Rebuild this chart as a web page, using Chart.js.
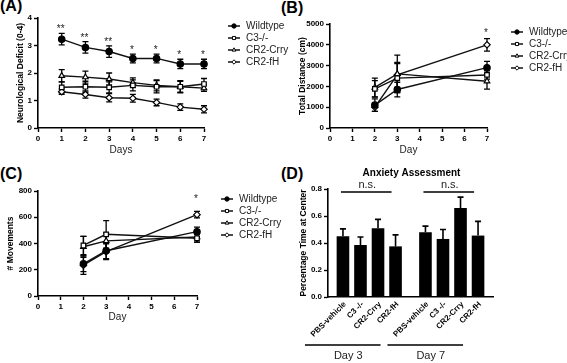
<!DOCTYPE html>
<html>
<head>
<meta charset="utf-8">
<script src="https://cdn.jsdelivr.net/npm/chart.js@4.4.0/dist/chart.umd.min.js"></script>
<style>
  body { margin: 0; background: #fff; width: 567px; height: 363px; position: relative; overflow: hidden; font-family: "Liberation Sans", Arial, sans-serif; }
  canvas { position: absolute; }
  .tag { position: absolute; font-weight: bold; font-size: 16px; line-height: 16px; color: #000; }
</style>
</head>
<body>
<div class="tag" style="left:0px;top:-2px">(A)</div>
<div class="tag" style="left:281px;top:0px">(B)</div>
<div class="tag" style="left:0px;top:166px">(C)</div>
<div class="tag" style="left:281px;top:166px">(D)</div>

<canvas id="chartA" width="290" height="162" style="left:0;top:0"></canvas>
<canvas id="chartB" width="287" height="162" style="left:280px;top:0"></canvas>
<canvas id="chartC" width="290" height="150" style="left:0;top:180px"></canvas>
<canvas id="chartD" width="287" height="203" style="left:280px;top:160px"></canvas>

<script>
// ---- data ----
const groups = ['Wildtype', 'C3-/-', 'CR2-Crry', 'CR2-fH'];

// (A) neurological deficit, days 1-7
const deficitDays = [1, 2, 3, 4, 5, 6, 7];
const deficitWT = [3.23, 2.93, 2.78, 2.53, 2.53, 2.33, 2.33];
const deficitWTErr = [0.21, 0.21, 0.21, 0.16, 0.16, 0.17, 0.17];
const deficitC3 = [1.48, 1.5, 1.48, 1.55, 1.5, 1.5, 1.6];
const deficitC3Err = [0.2, 0.2, 0.2, 0.2, 0.22, 0.22, 0.2];
const deficitCrry = [1.9, 1.85, 1.78, 1.65, 1.55, 1.5, 1.45];
const deficitCrryErr = [0.22, 0.22, 0.22, 0.17, 0.2, 0.2, 0.12];
const deficitFH = [1.32, 1.22, 1.1, 1.08, 0.93, 0.76, 0.68];
const deficitFHErr = [0.1, 0.13, 0.15, 0.14, 0.12, 0.12, 0.13];
const deficitStars = ['**', '**', '**', '*', '*', '*', '*'];

// (B) total distance, days 2, 3, 7
const distDays = [2, 3, 7];
const distWT = [1100, 1850, 2900];
const distWTErr = [300, 350, 300];
const distC3 = [1880, 2400, 2550];
const distC3Err = [400, 700, 200];
const distCrry = [1950, 2600, 2250];
const distCrryErr = [450, 900, 380];
const distFH = [1000, 2550, 4000];
const distFHErr = [200, 600, 300];
const distStars = ['', '', '*'];

// (C) movements, days 2, 3, 7
const moveDays = [2, 3, 7];
const moveWT = [245, 345, 490];
const moveWTErr = [60, 60, 35];
const moveC3 = [385, 470, 440];
const moveC3Err = [70, 105, 30];
const moveCrry = [375, 420, 450];
const moveCrryErr = [80, 60, 40];
const moveFH = [235, 338, 620];
const moveFHErr = [70, 60, 25];
const moveStars = ['', '', '*'];

// (D) anxiety assessment
const treatments = ['PBS-vehicle', 'C3 -/-', 'CR2-Crry', 'CR2-fH'];
const anxietyDays = ['Day 3', 'Day 7'];
const day3Means = [0.45, 0.385, 0.51, 0.375];
const day3Err = [0.055, 0.06, 0.065, 0.085];
const day7Means = [0.48, 0.43, 0.66, 0.455];
const day7Err = [0.045, 0.07, 0.08, 0.105];

// ---- styles ----
const FONT = '"Liberation Sans", Arial, sans-serif';
const markers = [
  { pointStyle: 'circle', fill: '#000' },
  { pointStyle: 'rect', fill: '#fff' },
  { pointStyle: 'triangle', fill: '#fff' },
  { pointStyle: 'rectRot', fill: '#fff' }
];

function lineSet(label, idx, days, vals, errs) {
  return {
    label: label,
    data: days.map((d, i) => ({ x: d, y: vals[i] })),
    errors: errs,
    borderColor: '#111',
    borderWidth: 1.4,
    pointStyle: markers[idx].pointStyle,
    pointBackgroundColor: markers[idx].fill,
    pointBorderColor: '#000',
    pointBorderWidth: 1.2,
    pointRadius: 3.2,
    tension: 0,
    clip: false
  };
}

// error bars + significance stars for the line panels
const errorBars = {
  id: 'errorBars',
  beforeDatasetsDraw(chart, args, o) {
    const { ctx, scales: { y } } = chart;
    ctx.save();
    ctx.strokeStyle = '#000';
    ctx.lineWidth = 1.3;
    chart.data.datasets.forEach((ds, i) => {
      chart.getDatasetMeta(i).data.forEach((pt, j) => {
        const v = ds.data[j].y, e = ds.errors[j];
        const top = y.getPixelForValue(v + e), bot = y.getPixelForValue(v - e);
        ctx.beginPath();
        ctx.moveTo(pt.x, top); ctx.lineTo(pt.x, bot);
        ctx.moveTo(pt.x - 3, top); ctx.lineTo(pt.x + 3, top);
        ctx.moveTo(pt.x - 3, bot); ctx.lineTo(pt.x + 3, bot);
        ctx.stroke();
      });
    });
    ctx.restore();
  },
  afterDraw(chart, args, o) {
    if (!o.stars) return;
    const { ctx, scales: { x, y } } = chart;
    ctx.save();
    ctx.fillStyle = '#222';
    ctx.font = '10px ' + FONT;
    ctx.textAlign = 'center';
    ctx.textBaseline = 'alphabetic';
    o.stars.forEach((s, j) => {
      if (!s) return;
      let hi = -Infinity;
      chart.data.datasets.forEach(ds => { hi = Math.max(hi, ds.data[j].y + ds.errors[j]); });
      ctx.fillText(s, x.getPixelForValue(chart.data.datasets[0].data[j].x) - 1, y.getPixelForValue(hi) - o.gap);
    });
    ctx.restore();
  }
};

// legend with line + marker like the Prism style
const lineLegend = {
  id: 'lineLegend',
  afterDraw(chart, args, o) {
    const { ctx, chartArea } = chart;
    ctx.save();
    ctx.font = '10px ' + FONT;
    ctx.textBaseline = 'middle';
    ctx.textAlign = 'left';
    chart.data.datasets.forEach((ds, i) => {
      const cx = chartArea.right + o.dx, cy = chartArea.top + o.dy + i * o.step;
      ctx.strokeStyle = '#000';
      ctx.lineWidth = 1.4;
      ctx.beginPath(); ctx.moveTo(cx - 6, cy); ctx.lineTo(cx + 6, cy); ctx.stroke();
      ctx.fillStyle = ds.pointBackgroundColor;
      ctx.lineWidth = 1;
      Chart.helpers.drawPoint(ctx, { pointStyle: ds.pointStyle, rotation: 0, radius: 2.2, borderWidth: 1 }, cx, cy);
      ctx.fillStyle = '#222';
      ctx.fillText(ds.label, cx + 12, cy);
    });
    ctx.restore();
  }
};

function axisCommon() {
  return {
    grid: { drawOnChartArea: false, drawTicks: true, tickLength: 4, tickColor: '#000', tickWidth: 1.4 },
    border: { display: true, color: '#000', width: 1.6 }
  };
}

function lineChart(id, datasets, cfg) {
  return new Chart(document.getElementById(id), {
    type: 'line',
    data: { datasets: datasets },
    options: {
      responsive: false,
      animation: false,
      devicePixelRatio: 1,
      layout: { padding: cfg.padding },
      plugins: {
        legend: { display: false },
        tooltip: { enabled: false },
        errorBars: { stars: cfg.stars, gap: cfg.starGap },
        lineLegend: { dx: 30, dy: 8, step: 12 }
      },
      scales: {
        x: Object.assign(axisCommon(), {
          type: 'linear', min: 0, max: 7,
          ticks: { stepSize: 1, color: '#000', padding: 2, font: { family: FONT, size: 8, weight: 'bold' } },
          title: { display: true, text: cfg.xTitle, color: '#222', font: { family: FONT, size: 10 }, padding: { top: 2, bottom: 4 } },
          afterFit: s => { s.height = cfg.xHeight; }
        }),
        y: Object.assign(axisCommon(), {
          min: 0, max: cfg.yMax,
          ticks: { stepSize: cfg.yStep, color: '#000', padding: 2, font: { family: FONT, size: 8, weight: 'bold' }, callback: v => String(v) },
          title: { display: true, text: cfg.yTitle, color: '#000', font: { family: FONT, size: 8.5, weight: 'bold' }, padding: { top: 4, bottom: 2 } },
          afterFit: s => { s.width = cfg.yWidth; }
        })
      }
    },
    plugins: [errorBars, lineLegend]
  });
}

lineChart('chartA', [
  lineSet(groups[0], 0, deficitDays, deficitWT, deficitWTErr),
  lineSet(groups[1], 1, deficitDays, deficitC3, deficitC3Err),
  lineSet(groups[2], 2, deficitDays, deficitCrry, deficitCrryErr),
  lineSet(groups[3], 3, deficitDays, deficitFH, deficitFHErr)
], {
  padding: { left: 12, top: 18, right: 86, bottom: 2 }, yWidth: 26, xHeight: 32,
  yMax: 4, yStep: 1, yTitle: 'Neurological Deficit (0-4)', xTitle: 'Days',
  stars: deficitStars, starGap: 1
});

lineChart('chartB', [
  lineSet(groups[0], 0, distDays, distWT, distWTErr),
  lineSet(groups[1], 1, distDays, distC3, distC3Err),
  lineSet(groups[2], 2, distDays, distCrry, distCrryErr),
  lineSet(groups[3], 3, distDays, distFH, distFHErr)
], {
  padding: { left: 14, top: 24, right: 80, bottom: 2 }, yWidth: 36, xHeight: 32,
  yMax: 5000, yStep: 1000, yTitle: 'Total Distance (cm)', xTitle: 'Day',
  stars: distStars, starGap: 3
});

lineChart('chartC', [
  lineSet(groups[0], 0, moveDays, moveWT, moveWTErr),
  lineSet(groups[1], 1, moveDays, moveC3, moveC3Err),
  lineSet(groups[2], 2, moveDays, moveCrry, moveCrryErr),
  lineSet(groups[3], 3, moveDays, moveFH, moveFHErr)
], {
  padding: { left: 2, top: 11, right: 93, bottom: 3 }, yWidth: 36, xHeight: 31,
  yMax: 800, yStep: 200, yTitle: '# Movements', xTitle: 'Day',
  stars: moveStars, starGap: 9
});

// ---- (D) bar chart ----
const barNotes = {
  id: 'barNotes',
  afterDatasetsDraw(chart) {
    const { ctx, scales: { y } } = chart;
    ctx.save();
    ctx.strokeStyle = '#000';
    ctx.lineWidth = 1.6;
    chart.data.datasets.forEach((ds, i) => {
      chart.getDatasetMeta(i).data.forEach((bar, j) => {
        const top = y.getPixelForValue(ds.data[j] + ds.errors[j]);
        ctx.beginPath();
        ctx.moveTo(bar.x, bar.y); ctx.lineTo(bar.x, top);
        ctx.moveTo(bar.x - 3, top); ctx.lineTo(bar.x + 3, top);
        ctx.stroke();
      });
    });
    ctx.restore();
  },
  afterDraw(chart) {
    const { ctx, chartArea } = chart;
    const sets = chart.data.datasets;
    ctx.save();
    ctx.fillStyle = '#000';
    // title
    ctx.font = 'bold 10px ' + FONT;
    ctx.textAlign = 'center';
    ctx.textBaseline = 'middle';
    ctx.fillText('Anxiety Assessment', (chartArea.left + chartArea.right) / 2 + 1, 13);
    // rotated treatment labels
    ctx.font = 'bold 8px ' + FONT;
    sets.forEach((ds, i) => {
      chart.getDatasetMeta(i).data.forEach(bar => {
        ctx.save();
        ctx.translate(bar.x + 2, chartArea.bottom + 6);
        ctx.rotate(-Math.PI / 4);
        ctx.textAlign = 'right';
        ctx.textBaseline = 'middle';
        ctx.fillText(ds.label, 0, 0);
        ctx.restore();
      });
    });
    // n.s. brackets and day groups
    ctx.strokeStyle = '#000';
    ctx.lineWidth = 1.5;
    chart.data.labels.forEach((day, j) => {
      const first = chart.getDatasetMeta(0).data[j].x;
      const last = chart.getDatasetMeta(sets.length - 1).data[j].x;
      ctx.beginPath();
      ctx.moveTo(first - 2, chartArea.top + 3); ctx.lineTo(last - 4, chartArea.top + 3);
      ctx.moveTo(first - 38, chartArea.bottom + 48); ctx.lineTo(last - 15, chartArea.bottom + 48);
      ctx.stroke();
      ctx.textAlign = 'center';
      ctx.textBaseline = 'middle';
      ctx.fillStyle = '#222';
      ctx.font = '11px ' + FONT;
      ctx.fillText('n.s.', (first + last) / 2 - 2, chartArea.top - 4);
      ctx.fillText(day, (first + last) / 2 - 21, chartArea.bottom + 59);
    });
    ctx.restore();
  }
};

new Chart(document.getElementById('chartD'), {
  type: 'bar',
  data: {
    labels: anxietyDays,
    datasets: treatments.map((t, i) => ({
      label: t,
      data: [day3Means[i], day7Means[i]],
      errors: [day3Err[i], day7Err[i]],
      backgroundColor: '#000',
      borderWidth: 0,
      categoryPercentage: 0.85,
      barPercentage: 0.72
    }))
  },
  options: {
    responsive: false,
    animation: false,
    devicePixelRatio: 1,
    layout: { padding: { left: 15, top: 29, right: 74, bottom: 0 } },
    plugins: { legend: { display: false }, tooltip: { enabled: false } },
    scales: {
      x: {
        grid: { display: false },
        border: { display: true, color: '#000', width: 1.6 },
        ticks: { display: false },
        afterFit: s => { s.height = 66; }
      },
      y: Object.assign(axisCommon(), {
        min: 0, max: 0.8,
        ticks: { stepSize: 0.2, color: '#000', padding: 2, font: { family: FONT, size: 8, weight: 'bold' }, callback: v => v.toFixed(1) },
        title: { display: true, text: 'Percentage Time at Center', color: '#000', font: { family: FONT, size: 8.5, weight: 'bold' }, padding: { top: 4, bottom: 2 } },
        afterFit: s => { s.width = 33; }
      })
    }
  },
  plugins: [barNotes]
});
</script>
</body>
</html>
